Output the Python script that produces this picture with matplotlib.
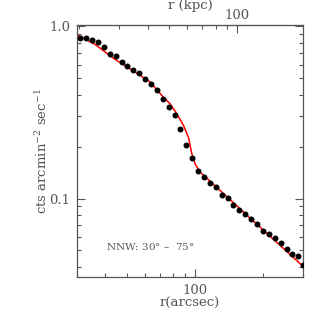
import numpy as np
import matplotlib
matplotlib.use('Agg')
import matplotlib.pyplot as plt
from matplotlib.ticker import FixedLocator, FuncFormatter, NullFormatter, LogLocator

# surface brightness profile, NNW sector
r_data = [30.98, 32.94, 35.12, 37.22, 39.49, 41.94, 44.58, 47.39, 50.17, 53.33,
          56.68, 60.19, 63.89, 67.88, 71.95, 76.47, 81.18, 86.10, 91.51, 97.3,
          103.3, 109.6, 116.5, 123.5, 131.2, 139.5, 147.7, 157.0, 166.4, 176.9,
          188.1, 199.9, 211.9, 225.3, 239.4, 254.5, 269.5, 286.5, 301.5]
sb_data = [0.860, 0.857, 0.835, 0.810, 0.762, 0.695, 0.671, 0.620, 0.588, 0.559,
           0.535, 0.498, 0.466, 0.429, 0.377, 0.340, 0.305, 0.252, 0.205, 0.172,
           0.145, 0.134, 0.123, 0.116, 0.105, 0.101, 0.0919, 0.0863, 0.0810, 0.0758,
           0.0709, 0.0649, 0.0626, 0.0591, 0.0550, 0.0507, 0.0479, 0.0464, 0.0412]

# model curve
r_model = [30.15, 36.09, 44.26, 54.26, 63.24, 67.67, 72.39, 77.50, 82.99, 88.77,
           93.42, 96.69, 100.0, 105.2, 110.7, 176.9, 301.5]
sb_model = [0.892, 0.786, 0.643, 0.544, 0.475, 0.4285, 0.388, 0.355, 0.311, 0.266,
            0.227, 0.182, 0.159, 0.142, 0.134, 0.0760, 0.0402]

kpc_per_arcsec = 0.65
grey = '#555555'

plt.rcParams['font.family'] = ['DejaVu Serif']
plt.rcParams['font.size'] = 9.5
plt.rcParams['mathtext.fontset'] = 'dejavuserif'

fig = plt.figure(figsize=(3.27, 3.27), dpi=100)
ax = fig.add_axes([77/327, 50/327, 226/327, 252/327])

ax.plot(r_model, sb_model, color='red', lw=1.1, zorder=2)
ax.plot(r_data, sb_data, 'o', color='black', ms=4.3, mec='none', zorder=3)

ax.set_xscale('log')
ax.set_yscale('log')
ax.set_xlim(30, 300)
ax.set_ylim(0.035, 1.02)

ax.xaxis.set_major_locator(FixedLocator([100]))
ax.xaxis.set_major_formatter(FuncFormatter(lambda v, p: '%d' % v))
ax.xaxis.set_minor_locator(LogLocator(base=10, subs=np.arange(2, 10)))
ax.xaxis.set_minor_formatter(NullFormatter())
ax.yaxis.set_major_locator(FixedLocator([0.1, 1.0]))
ax.yaxis.set_major_formatter(FuncFormatter(lambda v, p: '%.1f' % v))
ax.yaxis.set_minor_locator(LogLocator(base=10, subs=np.arange(2, 10)))
ax.yaxis.set_minor_formatter(NullFormatter())

ax.tick_params(which='both', direction='in', colors=grey, labelcolor=grey,
               right=True, top=False, width=0.8)
ax.tick_params(which='major', length=6, pad=5)
ax.tick_params(which='minor', length=3)
for s in ax.spines.values():
    s.set_color(grey)
    s.set_linewidth(0.9)

ax.set_xlabel('r(arcsec)', color=grey, labelpad=0)
ax.set_ylabel('cts arcmin$^{-2}$ sec$^{-1}$', color=grey, labelpad=-1)

sec = ax.secondary_xaxis('top', functions=(lambda a: a * kpc_per_arcsec,
                                           lambda k: k / kpc_per_arcsec))
sec.xaxis.set_major_locator(FixedLocator([100]))
sec.xaxis.set_major_formatter(FuncFormatter(lambda v, p: '%d' % v))
sec.xaxis.set_minor_locator(LogLocator(base=10, subs=np.arange(2, 10)))
sec.xaxis.set_minor_formatter(NullFormatter())
sec.tick_params(which='both', direction='in', colors=grey, labelcolor=grey, width=0.8)
sec.tick_params(which='major', length=6, pad=2)
sec.tick_params(which='minor', length=3)
sec.spines['top'].set_color(grey)
sec.set_xlabel('r (kpc)', color=grey, labelpad=0)

ax.text(0.13, 0.12, 'NNW: 30$\\degree$ \u2013  75$\\degree$', transform=ax.transAxes,
        fontsize=7.5, color=grey, va='center')

fig.savefig('out.png', dpi=100)
